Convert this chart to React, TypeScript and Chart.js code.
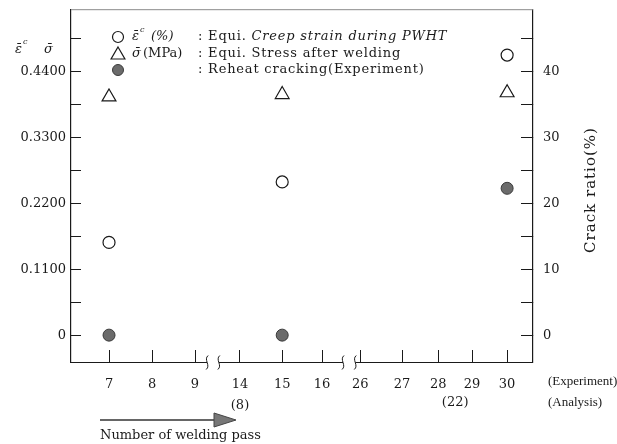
import React, { useEffect, useRef } from 'react';
import { Chart, registerables } from 'chart.js';

Chart.register(...registerables);

// ---------- data ----------
const passLabels = ['7', '8', '9', '14', '15', '16', '26', '27', '28', '29', '30'];
const analysisLabel14 = '(8)';
const analysisLabel28 = '(22)';
const measuredPasses = ['7', '15', '30'];
const creepStrain = [0.155, 0.256, 0.468];
const stressAfterWelding = [0.398, 0.402, 0.405];
const crackRatio = [0, 0, 22.3];
const leftTickValues = [0, 0.055, 0.11, 0.165, 0.22, 0.275, 0.33, 0.385, 0.44, 0.495];
const leftTickLabels = ['0', '', '0.1100', '', '0.2200', '', '0.3300', '', '0.4400', ''];
const rightTickValues = [0, 5, 10, 15, 20, 25, 30, 35, 40, 45];
const rightTickLabels = ['0', '', '10', '', '20', '', '30', '', '40', ''];

// ---------- axis layout (broken axis: slot position of each pass label) ----------
const X_SLOTS = [0, 1.08, 2.16, 3.29, 4.35, 5.35, 6.31, 7.36, 8.27, 9.12, 10];

const FONT = '"DejaVu Serif", serif';
const NARROW = '"Liberation Serif", serif';
const INK = '#1a1a1a';

const slotOf = (lab: string) => X_SLOTS[passLabels.indexOf(lab)];

const zeroPad = (s: any) => {
  s.paddingTop = 0;
  s.paddingBottom = 0;
  s.paddingLeft = 0;
  s.paddingRight = 0;
};

const decor = {
  id: 'decor',
  afterDraw(chart: any) {
    const { ctx, chartArea: a, scales } = chart;
    const xs = scales.x;
    const px = (i: number) => xs.getPixelForValue(X_SLOTS[i]);
    ctx.save();
    // top border
    ctx.strokeStyle = '#8a8a8a';
    ctx.lineWidth = 1;
    ctx.beginPath();
    ctx.moveTo(a.left, a.top + 0.5);
    ctx.lineTo(a.right, a.top + 0.5);
    ctx.stroke();

    // broken x axis
    const yb = a.bottom + 0.5;
    const p9 = px(2), p14 = px(3), p16 = px(5), p26 = px(6);
    const b1a = p9 + (p14 - p9) * 0.27, b1b = p9 + (p14 - p9) * 0.53;
    const b2a = p16 + (p26 - p16) * 0.55, b2b = p16 + (p26 - p16) * 0.87;
    ctx.strokeStyle = INK;
    ctx.lineWidth = 1.2;
    ctx.beginPath();
    ctx.moveTo(a.left, yb); ctx.lineTo(b1a, yb);
    ctx.moveTo(b1b, yb); ctx.lineTo(b2a, yb);
    ctx.moveTo(b2b, yb); ctx.lineTo(a.right, yb);
    ctx.stroke();
    const squiggle = (x: number) => {
      ctx.beginPath();
      ctx.moveTo(x - 1, yb + 7);
      ctx.bezierCurveTo(x + 4, yb + 3, x - 4, yb - 3, x + 1, yb - 7);
      ctx.stroke();
    };
    ctx.lineWidth = 1;
    [b1a, b1b, b2a, b2b].forEach(squiggle);

    // extra x labels
    ctx.fillStyle = INK;
    ctx.font = `13px ${FONT}`;
    ctx.textBaseline = 'middle';
    ctx.textAlign = 'center';
    ctx.fillText(analysisLabel28, (px(8) + px(9)) / 2, 403);
    ctx.textAlign = 'left';
    ctx.font = `13px ${NARROW}`;
    ctx.fillText('(Experiment)', 548, 382);
    ctx.fillText('(Analysis)', 548, 403);

    // arrow
    ctx.strokeStyle = '#333';
    ctx.lineWidth = 1.5;
    ctx.beginPath();
    ctx.moveTo(100, 420);
    ctx.lineTo(218, 420);
    ctx.stroke();
    ctx.fillStyle = '#777';
    ctx.strokeStyle = '#444';
    ctx.lineWidth = 1;
    ctx.beginPath();
    ctx.moveTo(214, 413);
    ctx.lineTo(236, 420);
    ctx.lineTo(214, 427);
    ctx.closePath();
    ctx.fill();
    ctx.stroke();
    ctx.fillStyle = INK;
    ctx.font = `13px ${FONT}`;
    ctx.fillText('Number of welding pass', 100, 436);

    // left axis title  (eps-bar c, sigma-bar)
    ctx.font = `italic 13px ${FONT}`;
    ctx.fillText('\u03B5\u0304', 15, 50);
    ctx.font = `italic 8px ${FONT}`;
    ctx.fillText('c', 23, 42);
    ctx.font = `italic 13px ${FONT}`;
    ctx.fillText('\u03C3\u0304', 44, 50);

    // right axis title
    ctx.save();
    ctx.translate(591, 190);
    ctx.rotate(-Math.PI / 2);
    ctx.textAlign = 'center';
    ctx.font = `15px ${FONT}`;
    (ctx as any).letterSpacing = '1px';
    ctx.fillText('Crack ratio(%)', 0, 0);
    ctx.restore();

    // legend
    const lx = 118;
    const rows = [37, 54, 70];
    ctx.lineWidth = 1.2;
    ctx.strokeStyle = INK;
    ctx.fillStyle = '#fff';
    ctx.beginPath();
    ctx.arc(lx, rows[0], 5.5, 0, Math.PI * 2);
    ctx.fill(); ctx.stroke();
    const r = 8;
    ctx.beginPath();
    for (let k = 0; k < 3; k++) {
      const ang = (k * 2 * Math.PI) / 3;
      const vx = lx + Math.sin(ang) * r;
      const vy = rows[1] + 1 - Math.cos(ang) * r;
      if (k === 0) ctx.moveTo(vx, vy); else ctx.lineTo(vx, vy);
    }
    ctx.closePath();
    ctx.stroke();
    ctx.fillStyle = '#6b6b6b';
    ctx.strokeStyle = '#3a3a3a';
    ctx.lineWidth = 1;
    ctx.beginPath();
    ctx.arc(lx, rows[2], 5.5, 0, Math.PI * 2);
    ctx.fill(); ctx.stroke();

    ctx.fillStyle = INK;
    ctx.font = `italic 13px ${FONT}`;
    ctx.fillText('\u03B5\u0304', 132, rows[0]);
    ctx.font = `italic 8px ${FONT}`;
    ctx.fillText('c', 140, rows[0] - 7);
    ctx.font = `italic 13px ${FONT}`;
    ctx.fillText('(%)', 151, rows[0]);
    ctx.fillText('\u03C3\u0304', 132, rows[1]);
    ctx.font = `13px ${FONT}`;
    ctx.fillText('(MPa)', 143, rows[1]);

    const cx = 198;
    (ctx as any).letterSpacing = '0.8px';
    const first = ': Equi. ';
    ctx.fillText(first, cx, rows[0]);
    const w = ctx.measureText(first).width;
    ctx.font = `italic 13px ${FONT}`;
    ctx.fillText('Creep strain during PWHT', cx + w, rows[0]);
    ctx.font = `13px ${FONT}`;
    ctx.fillText(': Equi. Stress after welding', cx, rows[1]);
    ctx.fillText(': Reheat cracking(Experiment)', cx, rows[2]);
    (ctx as any).letterSpacing = '0px';
    ctx.restore();
  },
};

export default function App() {
  const ref = useRef<HTMLCanvasElement>(null);
  useEffect(() => {
    if (!ref.current) return;
    const chart = new Chart(ref.current, {
      type: 'scatter',
      data: {
        datasets: [
          {
            label: 'Equi. Creep strain during PWHT',
            data: measuredPasses.map((p, i) => ({ x: slotOf(p), y: creepStrain[i] })),
            yAxisID: 'yL',
            pointStyle: 'circle',
            pointRadius: 6,
            backgroundColor: '#fff',
            borderColor: INK,
            borderWidth: 1.2,
          },
          {
            label: 'Equi. Stress after welding',
            data: measuredPasses.map((p, i) => ({ x: slotOf(p), y: stressAfterWelding[i] })),
            yAxisID: 'yL',
            pointStyle: 'triangle',
            pointRadius: 8,
            backgroundColor: 'rgba(255,255,255,0)',
            borderColor: INK,
            borderWidth: 1.2,
          },
          {
            label: 'Reheat cracking(Experiment)',
            data: measuredPasses.map((p, i) => ({ x: slotOf(p), y: crackRatio[i] })),
            yAxisID: 'yR',
            pointStyle: 'circle',
            pointRadius: 6,
            backgroundColor: '#6b6b6b',
            borderColor: '#3a3a3a',
            borderWidth: 1,
          },
        ],
      },
      options: {
        responsive: false,
        animation: false,
        devicePixelRatio: 1,
        layout: { padding: { top: 7, left: 0, right: 0, bottom: 0 } },
        plugins: { legend: { display: false }, tooltip: { enabled: false } },
        scales: {
          x: {
            type: 'linear',
            position: 'bottom',
            min: -0.955,
            max: 10.65,
            afterFit: (s: any) => { s.height = 82; zeroPad(s); },
            afterBuildTicks: (s: any) => { s.ticks = X_SLOTS.map((v) => ({ value: v })); },
            grid: { drawOnChartArea: false, drawTicks: true, tickLength: -12, color: INK, lineWidth: 1 },
            border: { display: false },
            ticks: {
              autoSkip: false,
              maxRotation: 0,
              padding: 24,
              color: INK,
              font: { family: FONT, size: 13, lineHeight: 1.6 },
              callback: (_v: any, i: number) => (passLabels[i] === '14' ? [passLabels[i], analysisLabel14] : passLabels[i]),
            },
          },
          yL: {
            type: 'linear',
            position: 'left',
            min: -0.0448,
            max: 0.5446,
            afterFit: (s: any) => { s.width = 71; zeroPad(s); },
            afterBuildTicks: (s: any) => { s.ticks = leftTickValues.map((v) => ({ value: v })); },
            grid: { drawOnChartArea: false, drawTicks: true, tickLength: -10, color: INK, lineWidth: 1 },
            border: { display: true, color: INK, width: 1.2 },
            ticks: {
              autoSkip: false,
              padding: 15,
              color: INK,
              font: { family: FONT, size: 13 },
              callback: (_v: any, i: number) => leftTickLabels[i],
            },
          },
          yR: {
            type: 'linear',
            position: 'right',
            min: -4.08,
            max: 49.5,
            afterFit: (s: any) => { s.width = 84; zeroPad(s); },
            afterBuildTicks: (s: any) => { s.ticks = rightTickValues.map((v) => ({ value: v })); },
            grid: { drawOnChartArea: false, drawTicks: true, tickLength: -12, color: INK, lineWidth: 1 },
            border: { display: true, color: INK, width: 1.2 },
            ticks: {
              autoSkip: false,
              padding: 22,
              color: INK,
              font: { family: FONT, size: 13 },
              callback: (_v: any, i: number) => rightTickLabels[i],
            },
          },
        },
      },
      plugins: [decor],
    } as any);
    return () => chart.destroy();
  }, []);
  return (
    <div style={{ position: 'absolute', left: 0, top: 0, width: 617, height: 444, background: '#fff' }}>
      <canvas ref={ref} width={617} height={444} style={{ display: 'block' }} />
    </div>
  );
}
